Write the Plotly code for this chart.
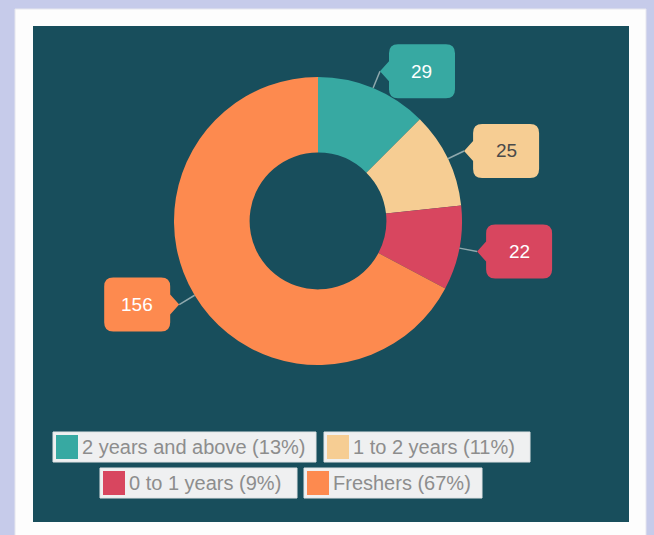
import math
import plotly.graph_objects as go

# ---------------- data ----------------
categories = ["2 years and above", "1 to 2 years", "0 to 1 years", "Freshers"]
values = [29, 25, 22, 156]

# ---------------- style ----------------
slice_colors = ["#37a9a2", "#f6cd93", "#d8465f", "#fd8a4f"]
label_text_colors = ["#ffffff", "#4a4a4a", "#ffffff", "#ffffff"]
W, H = 654, 535
BG = "#c6cbea"
PANEL = "#184e5c"
CX, CY, R = 318, 221, 144
HOLE = 0.475
FONT = "Liberation Sans, Arial, sans-serif"

# legend layout (pixel boxes)
legend_boxes = [(53, 432, 316, 462), (324, 432, 530, 462),
                (100, 468, 297, 498), (304, 468, 482, 498)]


def px(x):
    return x / W


def py(y):
    return 1 - y / H


total = sum(values)
pcts = [int(v / total * 100 + 0.5) for v in values]

fig = go.Figure()
fig.add_trace(go.Pie(
    values=values, labels=categories, hole=HOLE, sort=False,
    direction="clockwise", rotation=0, textinfo="none",
    marker=dict(colors=slice_colors, line=dict(width=0)),
    domain=dict(x=[px(CX - R), px(CX + R)], y=[py(CY + R), py(CY - R)]),
    showlegend=False, hoverinfo="label+value",
))

shapes = []
annotations = []

# card + panel
shapes.append(dict(type="rect", xref="paper", yref="paper", layer="below",
                   x0=px(15), x1=px(646), y0=py(545), y1=py(9),
                   fillcolor="#fdfdfd", line=dict(color="#e6e6ee", width=1)))
shapes.append(dict(type="rect", xref="paper", yref="paper", layer="below",
                   x0=px(33), x1=px(629), y0=py(522), y1=py(26),
                   fillcolor=PANEL, line=dict(width=0)))


def pathstr(pts):
    parts = []
    for cmd, coords in pts:
        if cmd == "Z":
            parts.append("Z")
        else:
            s = " ".join(f"{px(x):.5f},{py(y):.5f}" for x, y in coords)
            parts.append(f"{cmd} {s}")
    return " ".join(parts)


# callouts
BW, BH, PD, PH, RC = 66, 54, 9, 10, 9
cum = 0
for i, v in enumerate(values):
    mid = (cum + v / 2) / total * 2 * math.pi
    cum += v
    sx, sy = math.sin(mid), -math.cos(mid)
    ex, ey = CX + R * sx, CY + R * sy
    tx, ty = CX + (R + 18) * sx, CY + (R + 18) * sy
    shapes.append(dict(type="line", xref="paper", yref="paper",
                       x0=px(ex), y0=py(ey), x1=px(tx), y1=py(ty),
                       line=dict(color="#8fa9ae", width=1.5)))
    right = sx >= 0
    top, bot = ty - BH / 2, ty + BH / 2
    if right:
        l = tx + PD
        r = l + BW
        pts = [("M", [(tx, ty)]), ("L", [(l, ty - PH)]), ("L", [(l, top + RC)]),
               ("Q", [(l, top), (l + RC, top)]), ("L", [(r - RC, top)]),
               ("Q", [(r, top), (r, top + RC)]), ("L", [(r, bot - RC)]),
               ("Q", [(r, bot), (r - RC, bot)]), ("L", [(l + RC, bot)]),
               ("Q", [(l, bot), (l, bot - RC)]), ("L", [(l, ty + PH)]), ("Z", [])]
    else:
        r = tx - PD
        l = r - BW
        pts = [("M", [(tx, ty)]), ("L", [(r, ty + PH)]), ("L", [(r, bot - RC)]),
               ("Q", [(r, bot), (r - RC, bot)]), ("L", [(l + RC, bot)]),
               ("Q", [(l, bot), (l, bot - RC)]), ("L", [(l, top + RC)]),
               ("Q", [(l, top), (l + RC, top)]), ("L", [(r - RC, top)]),
               ("Q", [(r, top), (r, top + RC)]), ("L", [(r, ty - PH)]), ("Z", [])]
    shapes.append(dict(type="path", xref="paper", yref="paper",
                       path=pathstr(pts), fillcolor=slice_colors[i],
                       line=dict(width=0)))
    annotations.append(dict(xref="paper", yref="paper", x=px((l + r) / 2),
                            y=py(ty), text=str(v), showarrow=False,
                            xanchor="center", yanchor="middle",
                            font=dict(family=FONT, size=19,
                                      color=label_text_colors[i])))

# legend
for i, (x0, y0, x1, y1) in enumerate(legend_boxes):
    shapes.append(dict(type="rect", xref="paper", yref="paper",
                       x0=px(x0), x1=px(x1), y0=py(y1), y1=py(y0),
                       fillcolor="#eff0f1", line=dict(color="#dfe3e4", width=1)))
    shapes.append(dict(type="rect", xref="paper", yref="paper",
                       x0=px(x0 + 3), x1=px(x0 + 25), y0=py(y1 - 3), y1=py(y0 + 3),
                       fillcolor=slice_colors[i], line=dict(width=0)))
    annotations.append(dict(xref="paper", yref="paper", x=px(x0 + 27),
                            y=py((y0 + y1) / 2), xanchor="left", yanchor="middle",
                            text=f"{categories[i]} ({pcts[i]}%)", showarrow=False,
                            font=dict(family=FONT, size=20, color="#8d8d8d")))

fig.update_layout(
    width=W, height=H, margin=dict(l=0, r=0, t=0, b=0),
    paper_bgcolor=BG, plot_bgcolor=BG,
    shapes=shapes, annotations=annotations, showlegend=False,
)
fig.write_html(
    "out.html",
    config={"displayModeBar": False},
    post_script="document.body.style.margin='0';"
                "document.body.style.overflow='hidden';"
                f"document.body.style.background='{BG}';",
)
